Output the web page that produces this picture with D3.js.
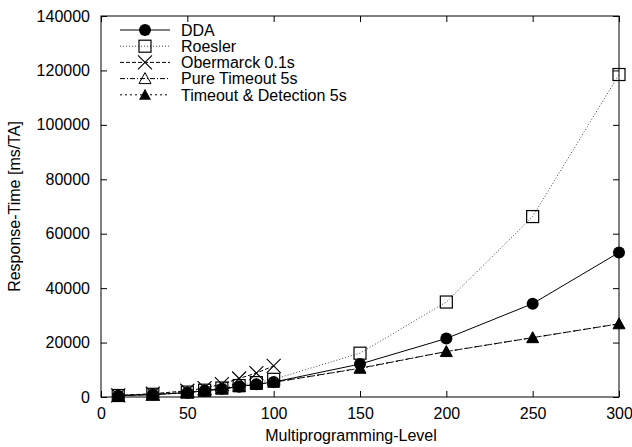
<!DOCTYPE html>
<html>
<head>
<meta charset="utf-8">
<script src="https://cdn.jsdelivr.net/npm/d3@7"></script>
<style>
  body { margin: 0; background: #fff; }
  svg { font-family: "Liberation Sans", Arial, sans-serif; }
</style>
</head>
<body>
<svg id="chart" width="632" height="447"></svg>
<script>
// multiprogramming levels on the x axis
var levels = [10, 30, 50, 60, 70, 80, 90, 100, 150, 200, 250, 300];
var obermarckLevels = [10, 30, 50, 60, 70, 80, 90, 100];

// response times
var ddaValues = [500, 900, 1600, 2300, 3000, 3800, 4700, 5500, 12100, 21500, 34300, 53100];
var roeslerValues = [550, 1000, 1800, 2500, 3300, 4200, 5300, 6500, 16100, 34900, 66300, 118500];
var obermarckValues = [600, 1200, 2300, 3300, 4700, 6800, 8800, 11400];
var pureTimeoutValues = [500, 900, 1600, 2300, 3000, 3800, 4600, 5400, 10600, 16700, 21800, 26900];
var timeoutDetectValues = [500, 900, 1600, 2300, 3000, 3800, 4600, 5400, 10500, 16700, 21800, 26900];

var seriesNames = ["DDA", "Roesler", "Obermarck 0.1s", "Pure Timeout 5s", "Timeout & Detection 5s"];
var xTicks = [0, 50, 100, 150, 200, 250, 300];
var yTicks = [0, 20000, 40000, 60000, 80000, 100000, 120000, 140000];

var series = [
  {name: seriesNames[0], xs: levels, ys: ddaValues, dash: null, color: "#000", mark: "circle"},
  {name: seriesNames[1], xs: levels, ys: roeslerValues, dash: "1,2", color: "#444", mark: "square"},
  {name: seriesNames[2], xs: obermarckLevels, ys: obermarckValues, dash: "4,2", color: "#000", mark: "cross"},
  {name: seriesNames[3], xs: levels, ys: pureTimeoutValues, dash: "5,2,1,2", color: "#000", mark: "opentri"},
  {name: seriesNames[4], xs: levels, ys: timeoutDetectValues, dash: "2,3", color: "#000", mark: "filltri"}
];

var margin = {top: 16, right: 13, bottom: 50, left: 101},
    width = 632 - margin.left - margin.right,
    height = 447 - margin.top - margin.bottom;

var x = d3.scaleLinear().domain([0, 300]).range([0, width]);
var y = d3.scaleLinear().domain([0, 140000]).range([height, 0]);

var svg = d3.select("#chart");
var g = svg.append("g")
    .attr("transform", "translate(" + margin.left + "," + margin.top + ")");

// frame with inward ticks on all four sides
g.append("rect")
    .attr("width", width).attr("height", height)
    .attr("fill", "none").attr("stroke", "#000").attr("stroke-width", 1);

var tickLen = 6;
g.append("g")
    .attr("transform", "translate(0," + height + ")")
    .call(d3.axisBottom(x).tickValues(xTicks).tickSizeInner(-tickLen).tickSizeOuter(0).tickPadding(11).tickFormat(d3.format("d")))
    .call(function(a) { a.select(".domain").remove(); });
g.append("g")
    .call(d3.axisTop(x).tickValues(xTicks).tickSizeInner(-tickLen).tickSizeOuter(0).tickFormat(""))
    .call(function(a) { a.select(".domain").remove(); });
g.append("g")
    .call(d3.axisLeft(y).tickValues(yTicks).tickSizeInner(-tickLen).tickSizeOuter(0).tickPadding(11).tickFormat(d3.format("d")))
    .call(function(a) { a.select(".domain").remove(); });
g.append("g")
    .attr("transform", "translate(" + width + ",0)")
    .call(d3.axisRight(y).tickValues(yTicks).tickSizeInner(-tickLen).tickSizeOuter(0).tickFormat(""))
    .call(function(a) { a.select(".domain").remove(); });

g.selectAll(".tick text").attr("font-size", 16).attr("fill", "#000")
    .attr("font-family", "Liberation Sans, Arial, sans-serif");
g.selectAll(".tick line").attr("stroke", "#000");

// marker drawing
function drawMark(sel, type) {
  if (type === "circle") {
    sel.append("circle").attr("r", 6).attr("fill", "#000");
  } else if (type === "square") {
    sel.append("rect").attr("x", -6).attr("y", -6).attr("width", 12).attr("height", 12)
      .attr("fill", "none").attr("stroke", "#000").attr("stroke-width", 1.2);
  } else if (type === "cross") {
    sel.append("path").attr("d", "M-7,-7L7,7M-7,7L7,-7").attr("stroke", "#000").attr("stroke-width", 1.1);
  } else if (type === "opentri") {
    sel.append("path").attr("d", "M0,-6L6,5L-6,5Z").attr("fill", "none").attr("stroke", "#000").attr("stroke-width", 1);
  } else {
    sel.append("path").attr("d", "M0,-6L6,5L-6,5Z").attr("fill", "#000");
  }
}

var line = d3.line()
    .x(function(d) { return x(d[0]); })
    .y(function(d) { return y(d[1]); });

series.forEach(function(s) {
  var pts = s.xs.map(function(v, i) { return [v, s.ys[i]]; });
  g.append("path")
      .datum(pts)
      .attr("d", line)
      .attr("fill", "none")
      .attr("stroke", s.color)
      .attr("stroke-width", 1)
      .attr("stroke-dasharray", s.dash);
  g.selectAll(null)
      .data(pts)
    .enter().append("g")
      .attr("transform", function(d) { return "translate(" + x(d[0]) + "," + y(d[1]) + ")"; })
      .each(function() { drawMark(d3.select(this), s.mark); });
});

// legend
var legend = svg.append("g").attr("transform", "translate(120,30)");
series.forEach(function(s, i) {
  var row = legend.append("g").attr("transform", "translate(0," + (i * 16.2) + ")");
  row.append("line")
      .attr("x1", 0).attr("x2", 50)
      .attr("stroke", s.color).attr("stroke-width", 1)
      .attr("stroke-dasharray", s.dash);
  var m = row.append("g").attr("transform", "translate(25,0)");
  drawMark(m, s.mark);
  row.append("text")
      .attr("x", 61).attr("y", 5.8)
      .attr("font-size", 16)
      .text(s.name);
});

// axis titles
svg.append("text")
    .attr("x", 351).attr("y", 441)
    .attr("text-anchor", "middle")
    .attr("font-size", 16)
    .text("Multiprogramming-Level");
svg.append("text")
    .attr("transform", "translate(20," + (margin.top + height / 2) + ") rotate(-90)")
    .attr("text-anchor", "middle")
    .attr("font-size", 16)
    .text("Response-Time [ms/TA]");
</script>
</body>
</html>
